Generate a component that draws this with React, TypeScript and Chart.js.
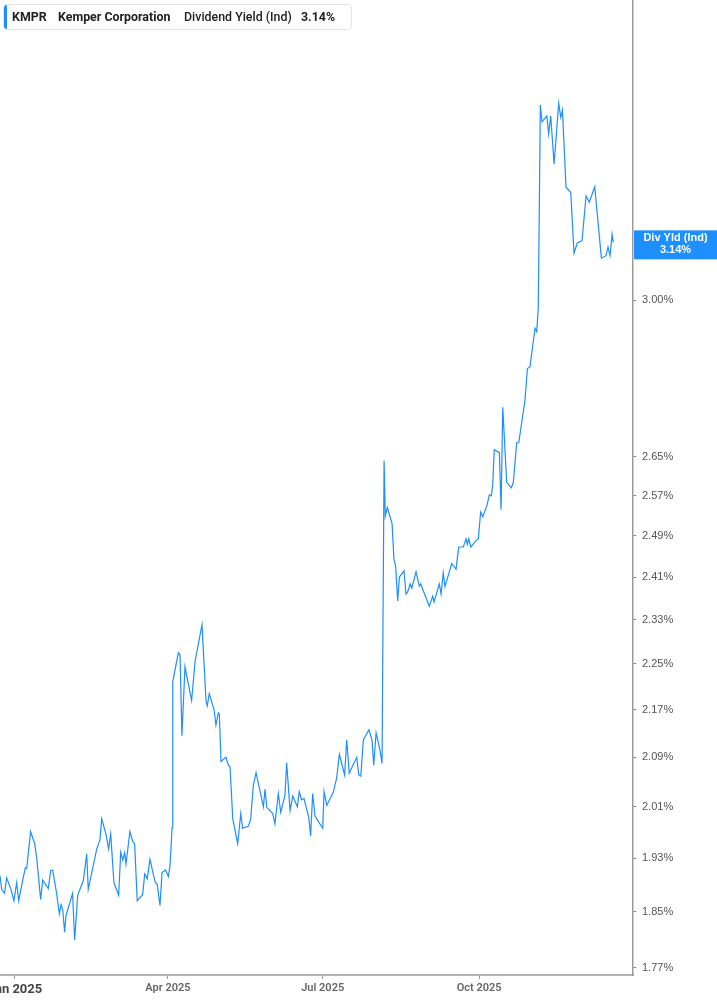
import React, { useEffect, useRef } from 'react';
import { Chart, registerables, Plugin } from 'chart.js';

Chart.register(...registerables);

// days counted from 1 Jan 2025 (negative = late Dec 2024)
const days: number[] = [
  -8.8, -7.8, -6.1, -4.9, -2.5, -0.6, 1.0, 2.2, 4.5, 6.1, 6.9, 9.2, 11.6, 12.8, 15.1, 16.3, 19.6, 21.0, 22.2, 24.5,
  26.1, 27.1, 28.1, 29.2, 30.0, 33.9, 35.1, 36.9, 40.2, 42.2, 43.1, 48.1, 50.0, 51.0, 53.5, 55.1, 56.3, 58.2, 61.0, 62.2,
  63.4, 64.5, 65.3, 67.6, 69.2, 70.4, 71.9, 75.1, 76.3, 77.8, 79.4, 82.5, 83.7, 85.3, 86.5, 88.6, 90.2, 91.2, 92.4,
  92.8, 96.1, 97.1, 98.2, 100.0, 103.9, 105.9, 110.0, 112.4, 113.1, 114.3, 117.1, 118.2, 119.6, 120.2, 121.2, 124.1, 125.5, 126.5, 128.1,
  131.0, 132.8, 133.9, 137.2, 138.6, 140.2, 141.8, 146.1, 147.1, 148.1, 151.6, 152.9, 154.9, 156.3, 158.8, 159.8, 161.8, 163.4, 166.1, 167.2,
  168.6, 170.0, 172.8, 173.9, 175.1, 176.5, 181.0, 181.8, 183.4, 187.2, 189.2, 190.8,
  193.9, 195.1, 196.6, 201.0, 202.2, 203.4, 204.9, 208.2, 210.0, 211.0, 212.4, 214.7, 215.9, 217.1, 217.8, 219.0, 221.8, 222.9, 223.9, 225.1,
  226.1, 228.8, 230.0, 231.0, 232.4, 233.4, 235.9, 237.8, 238.6, 243.7, 245.7, 246.5, 249.6, 250.6, 251.9, 252.9, 256.9, 259.4, 261.0, 263.7,
  265.3, 266.1, 266.9, 268.1, 271.6, 272.5, 273.9, 275.1, 277.5, 279.0,
  280.2, 281.0, 281.9, 284.9, 285.9, 286.9, 289.2, 291.9, 293.1, 295.1, 296.3, 300.0, 301.4, 302.9, 305.9, 306.9, 307.8, 309.0, 310.0, 312.8,
  313.9, 315.1, 317.1, 319.8, 321.0, 322.0, 324.1, 326.9, 328.8, 330.8, 333.5, 335.9, 337.8, 341.0, 344.9, 347.6, 348.8, 350.0, 351.2, 351.9,
];

// dividend yield (%)
const yields: number[] = [
  1.903, 1.883, 1.877, 1.900, 1.884, 1.866, 1.893, 1.866, 1.896, 1.915, 1.914, 1.971, 1.952, 1.930, 1.868, 1.897, 1.884, 1.911, 1.912, 1.877,
  1.847, 1.860, 1.853, 1.820, 1.844, 1.877, 1.809, 1.874, 1.896, 1.936, 1.883, 1.944, 1.958, 1.991, 1.967, 1.944, 1.967, 1.893, 1.874, 1.939,
  1.927, 1.938, 1.921, 1.971, 1.956, 1.952, 1.866, 1.875, 1.906, 1.899, 1.928, 1.893, 1.890, 1.859, 1.908, 1.912, 1.902, 1.918, 1.977,
  2.219, 2.270, 2.266, 2.126, 2.245, 2.186, 2.254, 2.321, 2.184, 2.177, 2.198, 2.170, 2.144, 2.165, 2.163, 2.083, 2.090, 2.077, 2.074, 1.991,
  1.952, 1.999, 1.976, 1.979, 1.990, 2.044, 2.065, 2.010, 2.038, 2.009, 1.999, 1.983, 2.031, 2.001, 2.028, 2.081, 2.004, 2.027, 2.010, 2.034,
  2.021, 2.023, 1.993, 1.964, 2.031, 1.995, 1.976, 2.034, 2.012, 2.033, 2.056, 2.095,
  2.061, 2.119, 2.064, 2.090, 2.061, 2.059, 2.119, 2.136, 2.119, 2.077, 2.131, 2.102, 2.080, 2.642, 2.529, 2.546, 2.514, 2.444, 2.431, 2.365,
  2.410, 2.422, 2.378, 2.382, 2.397, 2.389, 2.420, 2.393, 2.397, 2.355, 2.374, 2.363, 2.397, 2.378, 2.418, 2.392, 2.436, 2.425, 2.468, 2.468,
  2.484, 2.473, 2.484, 2.468, 2.482, 2.484, 2.537, 2.528, 2.549, 2.572,
  2.570, 2.593, 2.665, 2.659, 2.542, 2.756, 2.598, 2.586, 2.597, 2.680, 2.680, 2.772, 2.842, 2.846, 2.934, 2.926, 2.984, 3.500, 3.454, 3.470,
  3.421, 3.470, 3.341, 3.505, 3.466, 3.486, 3.280, 3.266, 3.113, 3.139, 3.144, 3.257, 3.241, 3.281, 3.101, 3.107, 3.128, 3.107, 3.160, 3.140,
];

const xTickDays: number[] = [0, 90, 181, 273];
const xTickLabels: string[] = ['Jan 2025', 'Apr 2025', 'Jul 2025', 'Oct 2025'];
const yTickValues: number[] = [1.77, 1.85, 1.93, 2.01, 2.09, 2.17, 2.25, 2.33, 2.41, 2.49, 2.57, 2.65, 3.0];
const currentYield = 3.14;

const BLUE = '#1e8fff';
const FONT = 'Roboto, "Noto Sans", sans-serif';
const AXIS_FONT = '"Liberation Sans", Arial, sans-serif';

const badgePlugin: Plugin<'line'> = {
  id: 'badge',
  afterDraw(chart) {
    const { ctx, chartArea } = chart;
    const y = chart.scales.y.getPixelForValue(currentYield);
    const x0 = chartArea.right + 1;
    ctx.save();
    ctx.fillStyle = BLUE;
    ctx.fillRect(x0, y - 12, chart.width - x0, 29);
    ctx.fillStyle = '#fff';
    ctx.font = `bold 11px ${AXIS_FONT}`;
    ctx.textAlign = 'center';
    ctx.textBaseline = 'middle';
    const cx = (x0 + chart.width) / 2;
    ctx.fillText('Div Yld (Ind)', cx, y - 4);
    ctx.fillText(currentYield.toFixed(2) + '%', cx, y + 8);
    ctx.restore();
  },
};

export default function App() {
  const chartRef = useRef<HTMLCanvasElement | null>(null);

  useEffect(() => {
    if (!chartRef.current) return;
    const ctx = chartRef.current.getContext('2d');
    if (!ctx) return;
    Chart.defaults.font.family = FONT;

    const chart = new Chart(ctx, {
      type: 'line',
      data: {
        datasets: [
          {
            label: 'Dividend Yield (Ind)',
            data: days.map((d, i) => ({ x: d, y: yields[i] })),
            borderColor: BLUE,
            borderWidth: 1.2,
            pointRadius: 0,
            tension: 0,
            fill: false,
          },
        ],
      },
      options: {
        animation: false,
        responsive: true,
        maintainAspectRatio: false,
        layout: { padding: 0 },
        plugins: { legend: { display: false }, tooltip: { enabled: false } },
        scales: {
          x: {
            type: 'linear',
            min: -8.8,
            max: 363.5,
            afterBuildTicks: (s: any) => {
              s.ticks = xTickDays.map((v) => ({ value: v }));
            },
            afterFit: (s: any) => {
              s.height = 30;
              s.paddingLeft = 0;
              s.paddingRight = 0;
            },
            ticks: {
              autoSkip: false,
              maxRotation: 0,
              padding: 3,
              callback: (v: any) => xTickLabels[xTickDays.indexOf(Number(v))] ?? '',
              color: (c: any) => (c.tick && c.tick.value === 0 ? '#444' : '#666'),
              font: (c: any) =>
                c.tick && c.tick.value === 0 ? { size: 13, weight: 'bold' } : { size: 11, weight: '600' },
            },
            grid: { drawOnChartArea: false, tickLength: 4, color: '#999' },
            border: { color: '#b3b3b3', width: 2 },
          },
          y: {
            type: 'logarithmic',
            position: 'right',
            min: 1.7596,
            max: 3.803,
            afterBuildTicks: (s: any) => {
              s.ticks = yTickValues.map((v) => ({ value: v }));
            },
            afterFit: (s: any) => {
              s.width = 84;
              s.paddingTop = 0;
              s.paddingBottom = 0;
            },
            ticks: {
              autoSkip: false,
              padding: 6,
              color: '#555',
              font: { size: 11, family: AXIS_FONT },
              callback: (v: any) => Number(v).toFixed(2) + '%',
            },
            grid: { drawOnChartArea: false, tickLength: 3, color: '#777' },
            border: { color: '#9a9a9a', width: 1.5 },
          },
        },
      },
      plugins: [badgePlugin],
    });

    return () => chart.destroy();
  }, []);

  const label: React.CSSProperties = {
    position: 'absolute',
    top: 0,
    lineHeight: '24px',
    fontSize: 12.4,
    color: '#222',
    whiteSpace: 'nowrap',
  };

  return (
    <div
      style={{
        position: 'fixed',
        left: 0,
        top: 0,
        width: 717,
        height: 1005,
        background: '#fff',
        fontFamily: FONT,
      }}
    >
      <canvas ref={chartRef} />
      <div
        style={{
          position: 'absolute',
          left: 3,
          top: 4,
          width: 347,
          height: 24,
          background: '#fff',
          border: '1px solid #e4e4e4',
          borderRadius: 4,
        }}
      >
        <div style={{ position: 'absolute', left: 0, top: 0, width: 3, height: 24, background: BLUE, borderRadius: '3px 0 0 3px' }} />
        <span style={{ ...label, left: 8, fontWeight: 700 }}>KMPR</span>
        <span style={{ ...label, left: 54, fontWeight: 700 }}>Kemper Corporation</span>
        <span style={{ ...label, left: 180, fontWeight: 500 }}>Dividend Yield (Ind)</span>
        <span style={{ ...label, left: 297, fontWeight: 700 }}>3.14%</span>
      </div>
    </div>
  );
}
